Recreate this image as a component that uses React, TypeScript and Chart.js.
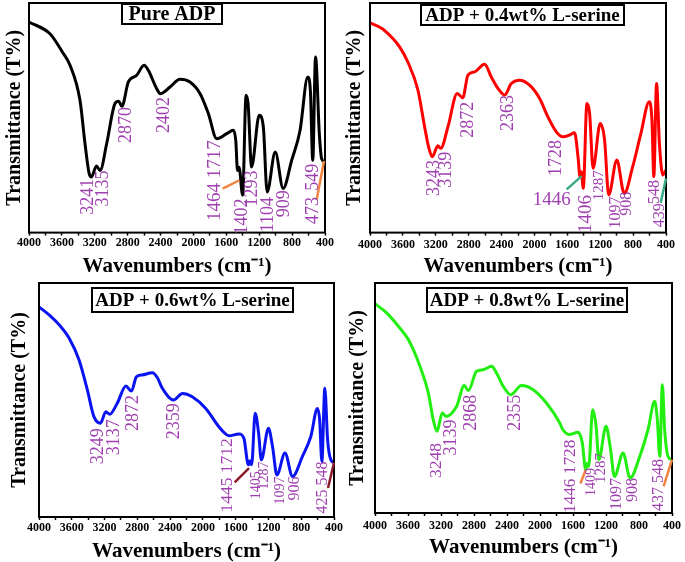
import React, { useEffect, useRef } from 'react';
import { Chart, registerables } from 'chart.js';

Chart.register(...registerables);

const SERIF = "'Liberation Serif', 'Times New Roman', Times, serif";
const LABEL_COLOR = '#a040b0';

// ---------- axis tick labels ----------
const xTickLabels = [4000, 3600, 3200, 2800, 2400, 2000, 1600, 1200, 800, 400];

// ---------- Pure ADP (black) ----------
const pureWn = [4000, 3745, 3600, 3501, 3380, 3319, 3270, 3241, 3180, 3135, 3055, 2954, 2910, 2870, 2792, 2690, 2601, 2549, 2447, 2402, 2285, 2164, 2042, 1919, 1818, 1717, 1595, 1515, 1485, 1464, 1445, 1402, 1360, 1335, 1293, 1200, 1150, 1104, 1005, 909, 805, 703, 610, 578, 549, 515, 469, 441, 400];
const pureT = [91.7, 86.6, 79, 72.9, 57.6, 38.8, 26, 24.2, 29.0, 27.1, 38.8, 56.2, 57.2, 55.0, 65.6, 68.5, 72.9, 70.7, 62.7, 60.5, 63.4, 66.8, 65.6, 60.5, 51.8, 40.9, 43.1, 44.6, 40, 27, 28.5, 16.3, 59.8, 56, 28.6, 51.1, 46, 17.7, 35.1, 19.2, 31.5, 44.6, 67.8, 62, 31.5, 76.5, 43.1, 32.2, 30.8];

// ---------- ADP + 0.4wt% L-serine (red) ----------
const s04Wn = [4000, 3850, 3740, 3640, 3540, 3417, 3336, 3285, 3243, 3175, 3139, 3052, 2939, 2872, 2809, 2728, 2606, 2525, 2444, 2363, 2282, 2180, 2059, 1937, 1836, 1734, 1653, 1572, 1512, 1470, 1446, 1430, 1406, 1362, 1329, 1287, 1200, 1147, 1097, 998, 908, 805, 705, 604, 571, 548, 515, 480, 439, 400];
const s04T = [91.3, 88.8, 85.2, 80.9, 74.3, 62.0, 46.1, 37.0, 33.0, 37.8, 36.7, 46.1, 60.6, 58.7, 68.6, 70.0, 73.3, 67.8, 62.8, 59.9, 64.9, 66.4, 64.2, 58.4, 50.4, 43.9, 41.7, 42.5, 43.5, 33, 24.3, 26.5, 19.3, 56.2, 51.9, 28.0, 47.5, 40.3, 16.4, 31.6, 17.1, 28.7, 43.2, 57.0, 49.0, 24.3, 64.9, 38.8, 25.1, 27.2];

// ---------- ADP + 0.6wt% L-serine (blue) ----------
const s06Wn = [4000, 3870, 3750, 3630, 3510, 3410, 3330, 3249, 3185, 3137, 3045, 2940, 2872, 2812, 2740, 2617, 2555, 2495, 2359, 2250, 2130, 1965, 1805, 1712, 1680, 1560, 1500, 1445, 1425, 1405, 1362, 1320, 1287, 1200, 1150, 1097, 998, 906, 785, 683, 602, 575, 548, 512, 478, 438, 400];
const s06T = [89.8, 86.2, 82.0, 76.3, 67.0, 54.3, 42.9, 40.1, 45.0, 43.9, 48.6, 56.0, 53.8, 59.9, 60.7, 61.6, 59.5, 55.0, 50.0, 52.8, 51.4, 46.4, 38.6, 35.2, 34.7, 35.5, 33.7, 22.3, 24, 22.3, 44.3, 35.8, 24.4, 37.9, 30.1, 18.0, 27.3, 17.3, 25.9, 34.4, 46.4, 41.5, 23.7, 55.0, 33.0, 24.4, 23.3];

// ---------- ADP + 0.8wt% L-serine (green) ----------
const s08Wn = [4000, 3859, 3717, 3596, 3455, 3354, 3294, 3248, 3185, 3139, 3011, 2918, 2868, 2769, 2688, 2587, 2527, 2446, 2355, 2224, 2083, 1922, 1760, 1728, 1645, 1538, 1487, 1446, 1430, 1409, 1362, 1320, 1287, 1200, 1150, 1097, 993, 908, 791, 691, 610, 578, 548, 517, 489, 448, 400];
const s08T = [91, 87.0, 81.2, 75.4, 63.8, 52.2, 40.6, 35.5, 43.5, 42.0, 46.4, 55.4, 53.2, 61.6, 62.3, 63.8, 60.9, 55.1, 51.4, 55.4, 53.6, 47.8, 39.1, 36.5, 34.1, 35.1, 30.4, 18.8, 21.5, 20.3, 44.9, 37.7, 23.2, 37.7, 29.0, 15.9, 26.1, 15.2, 24.6, 36.2, 48.6, 40.6, 24.6, 55.8, 36.2, 24.6, 23.2];

// ---------- peak annotations: text, wavenumber, T at top of text, font size ----------
const pureLabels = [
  { text: '3241', wn: 3278, t: 23.5, size: 18 },
  { text: '3135', wn: 3096, t: 27.1, size: 18 },
  { text: '2870', wn: 2812, t: 54.7, size: 18 },
  { text: '2402', wn: 2354, t: 59.1, size: 18 },
  { text: '1464 1717', wn: 1738, t: 40.2, size: 19 },
  { text: '1402', wn: 1401, t: 14.8, size: 18 },
  { text: '1293', wn: 1284, t: 27.1, size: 18 },
  { text: '1104', wn: 1089, t: 15.5, size: 18 },
  { text: '909', wn: 895, t: 18.4, size: 18 },
  { text: '549', wn: 540, t: 30.0, size: 18 },
  { text: '473', wn: 540, t: 15.5, size: 18 },
];
const pureLeaders = [[1645, 19.2, 1442, 22.8], [501, 14.4, 412, 31.2]];

const s04Labels = [
  { text: '3243', wn: 3222, t: 31.6, size: 18 },
  { text: '3139', wn: 3068, t: 35.2, size: 18 },
  { text: '2872', wn: 2804, t: 57.0, size: 18 },
  { text: '2363', wn: 2318, t: 59.9, size: 18 },
  { text: '1728', wn: 1738, t: 40.3, size: 18 },
  { text: '1446', wn: 1790, t: 14.2, size: 19, flat: true },
  { text: '1406', wn: 1373, t: 16.4, size: 19 },
  { text: '1287', wn: 1215, t: 27.2, size: 15 },
  { text: '1097', wn: 1008, t: 15.7, size: 16 },
  { text: '908', wn: 878, t: 17.8, size: 16 },
  { text: '548', wn: 534, t: 22.9, size: 16 },
  { text: '439', wn: 481, t: 12.8, size: 16 },
];
const s04Leaders = [[1608, 18.8, 1426, 24.6], [465, 13.0, 400, 23.6]];

const s06Labels = [
  { text: '3249', wn: 3272, t: 37.9, size: 18 },
  { text: '3137', wn: 3077, t: 41.8, size: 18 },
  { text: '2872', wn: 2853, t: 52.1, size: 18 },
  { text: '2359', wn: 2344, t: 48.6, size: 18 },
  { text: '1445 1712', wn: 1702, t: 33.7, size: 17.5 },
  { text: '1405', wn: 1348, t: 19.5, size: 14 },
  { text: '1287', wn: 1254, t: 23.7, size: 14 },
  { text: '1097', wn: 1055, t: 17.3, size: 14 },
  { text: '906', wn: 880, t: 17.3, size: 16 },
  { text: '425 548', wn: 542, t: 23.7, size: 16 },
];
const s06Leaders = [[1612, 14.8, 1437, 20.9], [473, 12.4, 400, 23.3]];

const s08Labels = [
  { text: '3248', wn: 3253, t: 30.4, size: 17.5 },
  { text: '3139', wn: 3080, t: 40.6, size: 18 },
  { text: '2868', wn: 2838, t: 51.4, size: 18 },
  { text: '2355', wn: 2305, t: 51.4, size: 18 },
  { text: '1446 1728', wn: 1627, t: 31.9, size: 17.3 },
  { text: '1409', wn: 1377, t: 19.6, size: 14 },
  { text: '1287', wn: 1264, t: 26.1, size: 15 },
  { text: '1097', wn: 1074, t: 15.2, size: 16 },
  { text: '908', wn: 872, t: 15.2, size: 16 },
  { text: '437 548', wn: 557, t: 23.5, size: 16 },
];
const s08Leaders = [[1510, 12.8, 1445, 18.8], [501, 11.6, 400, 23.2]];

type Panel = {
  title: string;
  wn: number[];
  t: number[];
  color: string;
  labels: any[];
  leaders: number[][];
  leaderColor: string;
  pos: { left: number; top: number; width: number; height: number };
  layout: { top: number; right: number };
  yTitlePad: { top: number; bottom: number };
  xTick: { len: number; pad: number };
  xTitlePad: { top: number; bottom: number };
  box: { dx: number; dy: number; w: number; h: number; font: number };
};

const panels: Panel[] = [
  {
    title: 'Pure ADP', wn: pureWn, t: pureT, color: '#000000',
    labels: pureLabels, leaders: pureLeaders, leaderColor: '#f08440',
    pos: { left: 0, top: 0, width: 342, height: 277 },
    layout: { top: 3, right: 17 },
    yTitlePad: { top: 3, bottom: 2 },
    xTick: { len: 3, pad: 0 },
    xTitlePad: { top: 6, bottom: 0 },
    box: { dx: -5, dy: 1, w: 100, h: 20, font: 20 },
  },
  {
    title: 'ADP + 0.4wt% L-serine', wn: s04Wn, t: s04T, color: '#ff0000',
    labels: s04Labels, leaders: s04Leaders, leaderColor: '#3aaa8a',
    pos: { left: 342, top: 0, width: 343, height: 277 },
    layout: { top: 3, right: 19 },
    yTitlePad: { top: 1, bottom: 3 },
    xTick: { len: 3, pad: 2 },
    xTitlePad: { top: 2, bottom: 0 },
    box: { dx: 4.5, dy: 2, w: 203, h: 20, font: 19 },
  },
  {
    title: 'ADP + 0.6wt% L-serine', wn: s06Wn, t: s06T, color: '#0a14f0',
    labels: s06Labels, leaders: s06Leaders, leaderColor: '#8b1a2a',
    pos: { left: 0, top: 281, width: 350, height: 281 },
    layout: { top: 2, right: 16 },
    yTitlePad: { top: 8, bottom: 7 },
    xTick: { len: 3, pad: 1 },
    xTitlePad: { top: 4.6, bottom: 0 },
    box: { dx: 6, dy: 5, w: 201, h: 24, font: 19 },
  },
  {
    title: 'ADP + 0.8wt% L-serine', wn: s08Wn, t: s08T, color: '#22ee11',
    labels: s08Labels, leaders: s08Leaders, leaderColor: '#f08440',
    pos: { left: 342, top: 281, width: 343, height: 277 },
    layout: { top: 2, right: 13 },
    yTitlePad: { top: 4, bottom: 5 },
    xTick: { len: 3, pad: 3 },
    xTitlePad: { top: 0.6, bottom: 0 },
    box: { dx: 3.5, dy: 5, w: 200, h: 24, font: 19 },
  },
];

function makeDecor(p: Panel) {
  return {
    id: 'decor',
    afterDraw(chart: any) {
      const { ctx, chartArea: a, scales } = chart;
      const xs = scales.x;
      const ys = scales.y;
      ctx.save();
      // frame
      ctx.strokeStyle = '#000';
      ctx.lineWidth = 2;
      ctx.strokeRect(a.left, a.top, a.right - a.left, a.bottom - a.top);
      // leader lines
      ctx.strokeStyle = p.leaderColor;
      ctx.lineWidth = 2.5;
      for (const [x1, y1, x2, y2] of p.leaders) {
        ctx.beginPath();
        ctx.moveTo(xs.getPixelForValue(x1), ys.getPixelForValue(y1));
        ctx.lineTo(xs.getPixelForValue(x2), ys.getPixelForValue(y2));
        ctx.stroke();
      }
      // peak labels
      ctx.fillStyle = LABEL_COLOR;
      for (const lb of p.labels) {
        ctx.save();
        ctx.translate(xs.getPixelForValue(lb.wn), ys.getPixelForValue(lb.t));
        ctx.font = `${lb.size}px ${SERIF}`;
        ctx.textBaseline = 'middle';
        if (lb.flat) {
          ctx.textAlign = 'center';
        } else {
          ctx.rotate(-Math.PI / 2);
          ctx.textAlign = 'right';
        }
        ctx.fillText(lb.text, 0, 0);
        ctx.restore();
      }
      // title box
      const cx = (a.left + a.right) / 2 + p.box.dx;
      const bx = cx - p.box.w / 2;
      const by = a.top + p.box.dy;
      ctx.fillStyle = '#fff';
      ctx.fillRect(bx, by, p.box.w, p.box.h);
      ctx.strokeStyle = '#000';
      ctx.lineWidth = 2;
      ctx.strokeRect(bx, by, p.box.w, p.box.h);
      ctx.fillStyle = '#000';
      ctx.font = `bold ${p.box.font}px ${SERIF}`;
      ctx.textAlign = 'center';
      ctx.textBaseline = 'middle';
      ctx.fillText(p.title, cx, by + p.box.h / 2 + 1);
      ctx.restore();
    },
  };
}

function FtirPanel({ p }: { p: Panel }) {
  const ref = useRef<HTMLCanvasElement | null>(null);
  useEffect(() => {
    if (!ref.current) return;
    const chart = new Chart(ref.current, {
      type: 'line',
      data: {
        datasets: [
          {
            data: p.wn.map((w, i) => ({ x: w, y: p.t[i] })),
            borderColor: p.color,
            borderWidth: 3,
            pointRadius: 0,
            fill: false,
            cubicInterpolationMode: 'monotone',
          },
        ],
      },
      options: {
        animation: false,
        responsive: false,
        maintainAspectRatio: false,
        devicePixelRatio: 1,
        layout: { padding: { left: 0, top: p.layout.top, right: p.layout.right, bottom: 0 } },
        plugins: { legend: { display: false }, tooltip: { enabled: false } },
        scales: {
          x: {
            type: 'linear',
            min: 400,
            max: 4000,
            reverse: true,
            border: { display: false },
            grid: {
              display: true,
              drawOnChartArea: false,
              drawTicks: true,
              tickLength: p.xTick.len,
              tickColor: '#000',
              tickWidth: 1.5,
            },
            ticks: {
              stepSize: 200,
              autoSkip: false,
              maxRotation: 0,
              minRotation: 0,
              padding: p.xTick.pad,
              color: '#000',
              font: { family: SERIF, size: 12, weight: 'bold' },
              callback: (v: any) => (xTickLabels.includes(Number(v)) ? String(v) : ''),
            },
            title: {
              display: true,
              text: 'Wavenumbers (cm⁻¹)',
              color: '#000',
              font: { family: SERIF, size: 21, weight: 'bold', lineHeight: 1 },
              padding: { top: p.xTitlePad.top, bottom: p.xTitlePad.bottom },
            },
          },
          y: {
            type: 'linear',
            min: 0,
            max: 100,
            border: { display: false },
            grid: { display: false, drawTicks: false },
            ticks: { display: false },
            title: {
              display: true,
              text: 'Transmittance (T%)',
              color: '#000',
              font: { family: SERIF, size: 20, weight: 'bold', lineHeight: 1.2 },
              padding: { top: p.yTitlePad.top, bottom: p.yTitlePad.bottom },
            },
          },
        },
      } as any,
      plugins: [makeDecor(p)],
    });
    return () => chart.destroy();
  }, [p]);
  return (
    <div style={{ position: 'absolute', left: p.pos.left, top: p.pos.top, width: p.pos.width, height: p.pos.height }}>
      <canvas ref={ref} width={p.pos.width} height={p.pos.height} style={{ display: 'block' }} />
    </div>
  );
}

export default function App() {
  return (
    <div style={{ position: 'absolute', left: 0, top: 0, width: 685, height: 562, background: '#fff', overflow: 'hidden' }}>
      {panels.map((p, i) => (
        <FtirPanel key={i} p={p} />
      ))}
    </div>
  );
}
